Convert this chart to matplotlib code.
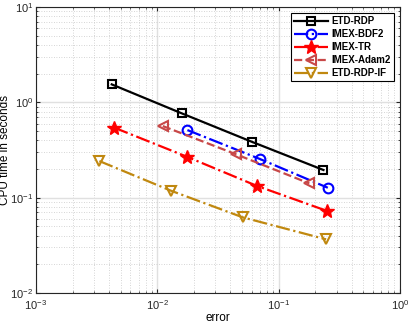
import matplotlib
matplotlib.use("Agg")
import matplotlib.pyplot as plt
from matplotlib.ticker import LogLocator, NullFormatter

plt.rcParams['font.family'] = ['Liberation Sans', 'DejaVu Sans']
plt.rcParams['axes.unicode_minus'] = False

names = ["ETD-RDP", "IMEX-BDF2", "IMEX-TR", "IMEX-Adam2", "ETD-RDP-IF"]
err_etd = [0.00421, 0.0159, 0.060, 0.234]
cpu_etd = [1.545, 0.767, 0.386, 0.195]
err_bdf2 = [0.0177, 0.0703, 0.254]
cpu_bdf2 = [0.512, 0.254, 0.127]
err_tr = [0.00443, 0.0175, 0.0659, 0.252]
cpu_tr = [0.542, 0.269, 0.133, 0.0723]
err_adam = [0.0111, 0.0446, 0.179]
cpu_adam = [0.564, 0.285, 0.141]
err_if = [0.00333, 0.0130, 0.0506, 0.246]
cpu_if = [0.242, 0.118, 0.0621, 0.0365]

fig = plt.figure(figsize=(4.09, 3.24), dpi=100)
ax = fig.add_axes([0.088, 0.096, 0.890, 0.882])

ms = 7
ax.plot(err_etd, cpu_etd, '-', color='black', lw=1.6, marker='s', ms=6, mfc='none', mew=1.5, label=names[0])
ax.plot(err_bdf2, cpu_bdf2, '-.', color='#0000ff', lw=1.6, marker='o', ms=ms, mfc='none', mew=1.5, label=names[1])
ax.plot(err_tr, cpu_tr, '-.', color='#ff0000', lw=1.6, marker='*', ms=10, mfc='#ff0000', mew=1.0, label=names[2])
ax.plot(err_adam, cpu_adam, '--', color='#c84848', lw=1.6, marker='<', ms=ms, mfc='none', mew=1.5, label=names[3])
ax.plot(err_if, cpu_if, '-.', color='#c0880f', lw=1.6, marker='v', ms=ms, mfc='none', mew=1.5, label=names[4])

ax.set_xscale('log')
ax.set_yscale('log')
ax.set_xlim(1e-3, 1)
ax.set_ylim(1e-2, 10)
ax.xaxis.set_major_locator(LogLocator(base=10, numticks=10))
ax.yaxis.set_major_locator(LogLocator(base=10, numticks=10))
ax.xaxis.set_minor_locator(LogLocator(base=10, subs=range(2, 10), numticks=20))
ax.yaxis.set_minor_locator(LogLocator(base=10, subs=range(2, 10), numticks=20))
ax.xaxis.set_minor_formatter(NullFormatter())
ax.yaxis.set_minor_formatter(NullFormatter())

ax.grid(True, which='major', color='#e0e0e0', lw=1.0, ls='-')
ax.grid(True, which='minor', color='#c8c8c8', lw=0.6, ls=(0, (1, 2)))
ax.set_axisbelow(True)
ax.tick_params(which='both', direction='in', top=True, right=True, labelsize=8, colors='#262626', pad=2)
ax.tick_params(axis='x', which='major', pad=4)
ax.tick_params(which='major', length=3)
ax.tick_params(which='minor', length=1.5)
for s in ax.spines.values():
    s.set_color('#262626')
    s.set_linewidth(0.8)

ax.set_xlabel('error', fontsize=8.5, labelpad=0)
ax.set_ylabel('CPU time in seconds', fontsize=8.5)
ax.yaxis.set_label_coords(-0.068, 0.5)

leg = ax.legend(loc='upper right', prop={'weight': 'bold', 'size': 7}, fancybox=False,
                framealpha=1, edgecolor='black', borderpad=0.35, labelspacing=0.3,
                handlelength=3.4, handletextpad=0.4, borderaxespad=0.6)
leg.get_frame().set_linewidth(0.8)

fig.savefig('out.png', dpi=100)
